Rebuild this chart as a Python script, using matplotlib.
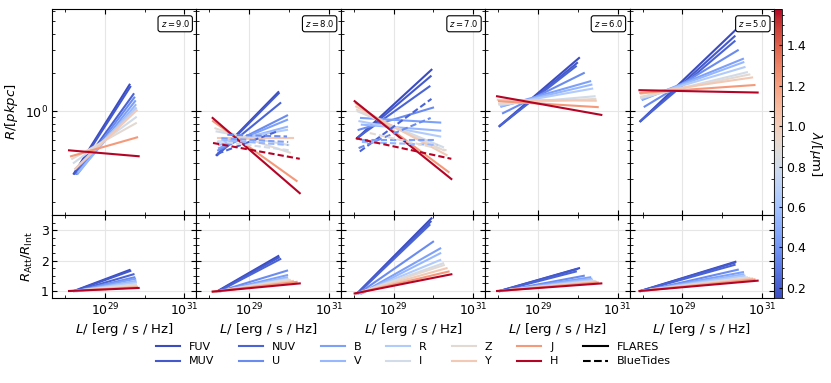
import numpy as np
import matplotlib.pyplot as plt
from matplotlib import colors
from matplotlib.lines import Line2D
from matplotlib.ticker import NullFormatter, FixedLocator

filters = ['FUV', 'MUV', 'NUV', 'U', 'B', 'V', 'R', 'I', 'Z', 'Y', 'J', 'H']
wavelengths = [0.15, 0.20, 0.23, 0.365, 0.445, 0.551, 0.658, 0.806, 0.90, 1.02, 1.22, 1.58]
redshifts = [9.0, 8.0, 7.0, 6.0, 5.0]

# FLARES size-luminosity fits: log10(L) range and R at both ends, per redshift / filter
logL_lo = [
    [28.22, 28.24, 28.28, 28.30, 28.32, 28.34, 28.26, 28.22, 28.18, 28.26, 28.15, 28.10],
    [28.18, 28.20, 28.22, 28.22, 28.24, 28.24, 28.22, 28.18, 28.15, 28.22, 28.09, 28.08],
    [28.08, 28.09, 28.10, 28.12, 28.18, 28.20, 28.14, 28.10, 28.08, 28.06, 28.05, 28.02],
    [28.03, 28.04, 28.05, 28.12, 28.08, 28.08, 28.06, 28.03, 28.02, 27.99, 28.02, 27.97],
    [27.94, 27.95, 27.96, 28.05, 28.00, 28.00, 27.98, 27.96, 27.96, 27.96, 27.94, 27.92],
]
logL_hi = [
    [29.62, 29.64, 29.72, 29.74, 29.76, 29.77, 29.78, 29.78, 29.78, 29.80, 29.81, 29.85],
    [29.73, 29.74, 29.78, 29.95, 29.95, 29.95, 29.95, 29.98, 30.02, 30.10, 30.19, 30.27],
    [29.95, 29.93, 29.90, 29.99, 30.17, 30.17, 30.17, 30.24, 30.26, 30.33, 30.38, 30.45],
    [30.03, 29.98, 29.95, 30.15, 30.31, 30.34, 30.36, 30.42, 30.44, 30.45, 30.50, 30.59],
    [30.33, 30.31, 30.31, 30.39, 30.52, 30.53, 30.56, 30.62, 30.68, 30.75, 30.81, 30.89],
]
R_lo = [
    [0.33, 0.33, 0.33, 0.33, 0.33, 0.34, 0.36, 0.40, 0.43, 0.36, 0.45, 0.50],
    [0.46, 0.46, 0.47, 0.50, 0.52, 0.55, 0.58, 0.70, 0.74, 0.62, 0.84, 0.89],
    [0.62, 0.62, 0.63, 0.72, 0.89, 0.79, 0.84, 1.00, 1.03, 1.09, 1.16, 1.20],
    [0.77, 0.77, 0.78, 0.97, 1.09, 1.10, 1.12, 1.13, 1.15, 1.23, 1.20, 1.31],
    [0.84, 0.84, 0.85, 1.09, 1.23, 1.25, 1.28, 1.27, 1.30, 1.37, 1.39, 1.46],
]
R_hi = [
    [1.61, 1.55, 1.36, 1.28, 1.20, 1.12, 1.06, 0.90, 0.81, 1.02, 0.63, 0.45],
    [1.41, 1.38, 1.16, 0.93, 0.86, 0.76, 0.72, 0.55, 0.48, 0.62, 0.29, 0.233],
    [2.10, 1.87, 1.56, 1.07, 0.82, 0.71, 0.64, 0.53, 0.50, 0.46, 0.34, 0.30],
    [2.59, 2.37, 2.23, 1.98, 1.71, 1.61, 1.50, 1.31, 1.25, 1.21, 1.08, 0.94],
    [4.25, 3.81, 3.49, 2.97, 2.55, 2.40, 2.20, 2.01, 1.93, 1.83, 1.60, 1.40],
]

# attenuated / intrinsic size ratio at both ends
ratio_lo = [1.0, 0.98, 0.92, 1.0, 1.0]
ratio_hi = [
    [1.69, 1.66, 1.55, 1.45, 1.40, 1.33, 1.28, 1.22, 1.18, 1.15, 1.12, 1.10],
    [2.15, 2.10, 2.05, 1.67, 1.52, 1.45, 1.40, 1.38, 1.36, 1.33, 1.30, 1.25],
    [3.39, 3.28, 3.17, 2.62, 2.40, 2.24, 2.02, 1.91, 1.85, 1.75, 1.64, 1.55],
    [1.75, 1.72, 1.64, 1.50, 1.45, 1.40, 1.36, 1.33, 1.31, 1.30, 1.28, 1.25],
    [1.96, 1.93, 1.86, 1.70, 1.62, 1.55, 1.50, 1.45, 1.43, 1.41, 1.38, 1.34],
]

# BlueTides fits (only z=8 and z=7)
bt_redshifts = [8.0, 7.0]
bt_filters = [['NUV', 'U', 'B', 'V', 'I', 'H'], ['NUV', 'U', 'B', 'V', 'Z', 'H']]
bt_logL_lo = [[28.20, 28.45, 28.30, 28.30, 28.20, 28.09], [28.15, 28.12, 28.20, 28.20, 28.40, 28.05]]
bt_logL_hi = [[29.70, 29.95, 29.98, 29.98, 30.02, 30.27], [29.95, 29.93, 30.10, 30.10, 30.33, 30.45]]
bt_R_lo = [[0.47, 0.66, 0.62, 0.60, 0.59, 0.57], [0.49, 0.52, 0.60, 0.58, 0.68, 0.62]]
bt_R_hi = [[0.70, 0.64, 0.58, 0.55, 0.50, 0.43], [1.25, 0.89, 0.60, 0.55, 0.50, 0.43]]

cmap = plt.get_cmap('coolwarm')
norm = colors.Normalize(vmin=0.15, vmax=1.58)

fig = plt.figure(figsize=(8.31, 3.83), dpi=100)
gs = fig.add_gridspec(2, 5, left=52/831, right=774/831, top=1 - 9/383, bottom=85/383,
                      height_ratios=[206, 83], wspace=0, hspace=0)

lw = 1.5
for i, z in enumerate(redshifts):
    ax = fig.add_subplot(gs[0, i])
    axr = fig.add_subplot(gs[1, i])

    for j, f in enumerate(filters):
        c = cmap(norm(wavelengths[j]))
        L = [10**logL_lo[i][j], 10**logL_hi[i][j]]
        ax.plot(L, [R_lo[i][j], R_hi[i][j]], color=c, lw=lw)
        axr.plot(L, [ratio_lo[i], ratio_hi[i][j]], color=c, lw=lw)

    if z in bt_redshifts:
        k = bt_redshifts.index(z)
        for m, f in enumerate(bt_filters[k]):
            c = cmap(norm(wavelengths[filters.index(f)]))
            ax.plot([10**bt_logL_lo[k][m], 10**bt_logL_hi[k][m]], [bt_R_lo[k][m], bt_R_hi[k][m]],
                    color=c, lw=lw, ls=(0, (3, 1.5)))

    ax.text(0.955, 0.955, rf'$z={z:.1f}$', transform=ax.transAxes, ha='right', va='top',
            fontsize=6, bbox=dict(boxstyle='round,pad=0.3', fc='white', ec='black', lw=0.8))

    for a in (ax, axr):
        a.set_xscale('log')
        a.set_xlim(4.7e27, 2e31)
        a.xaxis.set_major_locator(FixedLocator([1e29, 1e31]))
        a.xaxis.set_minor_locator(FixedLocator([1e28, 1e30]))
        a.xaxis.set_minor_formatter(NullFormatter())
        a.grid(True, which='major', color='0.9', lw=0.8)
        a.set_axisbelow(True)
        a.tick_params(which='both', direction='in', top=True, right=True, labelsize=9, pad=2.5)
        a.tick_params(which='major', length=3.5)
        a.tick_params(which='minor', length=2)
        for s in a.spines.values():
            s.set_linewidth(0.8)

    ax.set_yscale('log')
    ax.set_ylim(0.158, 6.2)
    ax.yaxis.set_minor_formatter(NullFormatter())
    ax.tick_params(labelbottom=False)
    axr.set_ylim(0.77, 3.5)
    axr.set_yticks([1, 2, 3])
    axr.yaxis.set_minor_locator(FixedLocator(np.arange(1.0, 3.5, 0.25)))
    axr.set_xlabel(r'$L/$ [erg / s / Hz]', fontsize=9.5, labelpad=2)

    if i == 0:
        ax.set_ylabel(r'$R/[pkpc]$', fontsize=9.5)
        axr.set_ylabel(r'$R_{\rm Att}/R_{\rm Int}$', fontsize=9.5)
    else:
        ax.tick_params(labelleft=False)
        axr.tick_params(labelleft=False)

cax = fig.add_axes([774/831, 85/383, 7.5/831, 289/383])
sm = plt.cm.ScalarMappable(norm=norm, cmap=cmap)
cb = fig.colorbar(sm, cax=cax)
cb.set_ticks([0.2, 0.4, 0.6, 0.8, 1.0, 1.2, 1.4])
cb.ax.minorticks_on()
cb.ax.tick_params(labelsize=9, direction='in', length=2)
cb.ax.tick_params(which='minor', length=1.2)
cb.outline.set_linewidth(0.6)
cb.set_label(r'$\lambda/[\mu\mathrm{m}]$', rotation=270, fontsize=9.5, labelpad=13)

handles = [Line2D([], [], color=cmap(norm(w)), lw=lw) for w in wavelengths]
handles += [Line2D([], [], color='black', lw=lw), Line2D([], [], color='black', lw=lw, ls='--')]
labels = filters + ['FLARES', 'BlueTides']
fig.legend(handles, labels, loc='upper center', bbox_to_anchor=(413/831, 1 - 332/383), ncol=7,
           frameon=False, fontsize=8, handlelength=2.2, columnspacing=2.2, labelspacing=0.4)

fig.savefig('out.png', dpi=100)
